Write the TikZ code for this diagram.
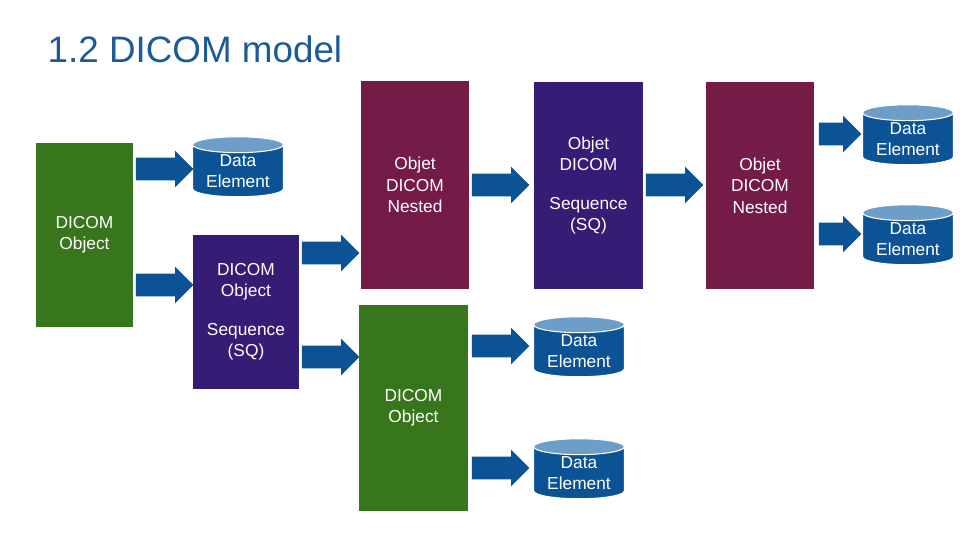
\documentclass[tikz,border=0pt]{standalone}
\usepackage{fontspec}
\setmainfont{Liberation Sans}
\usetikzlibrary{shapes.geometric,shapes.arrows,positioning}
\definecolor{dgreen}{HTML}{38761D}
\definecolor{dpurple}{HTML}{351C75}
\definecolor{dmaroon}{HTML}{741B47}
\definecolor{dblue}{HTML}{0B5394}
\definecolor{lblue}{HTML}{6D9EC9}
\definecolor{ttl}{HTML}{1C5A9A}
\tikzset{
    box/.style = {draw=none, inner sep=0pt, align=center, text=white, font=\fontsize{13}{16}\selectfont},
    boxg/.style = {box, fill=dgreen},
    boxp/.style = {box, fill=dpurple},
    boxm/.style = {box, fill=dmaroon},
    store/.style = {cylinder, shape border rotate=90, aspect=0.25, minimum width=68pt, minimum height=45pt,
        draw=white, line width=0.8pt, cylinder uses custom fill, cylinder body fill=dblue, cylinder end fill=lblue,
        align=center, text=white, font=\fontsize{13}{16}\selectfont, inner sep=0pt},
    go/.style = {single arrow, fill=dblue, draw=none, minimum height=43pt, inner xsep=0pt, inner ysep=8.25pt,
        single arrow head extend=5.25pt, single arrow head indent=0pt}
}
\begin{document}
\begin{tikzpicture}[x=0.75pt, y=-0.75pt]
  \useasboundingbox (0,0) rectangle (960,540);
  \node[anchor=west, text=ttl, font=\fontsize{27.6}{30}\selectfont] (title) at (43,49) {1.2 DICOM model};
  % boxes
  \node[boxg, minimum width=72.75pt, minimum height=138pt] (obj) at (84.5,235) {DICOM\\Object};
  \node[boxp, minimum width=79.5pt, minimum height=115.5pt] (seq) at (246,312) {DICOM\\Object\\[1em]Sequence\\(SQ)};
  \node[boxm, minimum width=81pt, minimum height=156pt] (nest) at (415,185) {Objet\\DICOM\\Nested};
  \node[boxp, minimum width=81.75pt, minimum height=155.25pt] (seqb) at (588.5,185.5) {Objet\\DICOM\\[1em]Sequence\\(SQ)};
  \node[boxm, minimum width=81pt, minimum height=155.25pt] (nestb) at (760,185.5) {Objet\\DICOM\\Nested};
  \node[boxg, minimum width=81.75pt, minimum height=154.5pt] (objb) at (413.5,408) {DICOM\\Object};
  % data elements
  \node[store] (de1) at (238,171) {Data\\Element};
  \node[store] (de2) at (908,139) {Data\\Element};
  \node[store] (de3) at (908,239) {Data\\Element};
  \node[store] (de4) at (579,351) {Data\\Element};
  \node[store] (de5) at (579,473) {Data\\Element};
  % arrows
  \node[go] (a1) at (159,169) {};
  \node[go] (a2) at (159,285) {};
  \node[go] (a3) at (325,253) {};
  \node[go] (a4) at (325,357) {};
  \node[go] (a5) at (495,185) {};
  \node[go] (a6) at (669,185) {};
  \node[go, minimum height=32pt] (a7) at (834.5,134) {};
  \node[go, minimum height=32pt] (a8) at (834.5,234) {};
  \node[go] (a9) at (495,346) {};
  \node[go] (a10) at (495,468) {};
\end{tikzpicture}
\end{document}
